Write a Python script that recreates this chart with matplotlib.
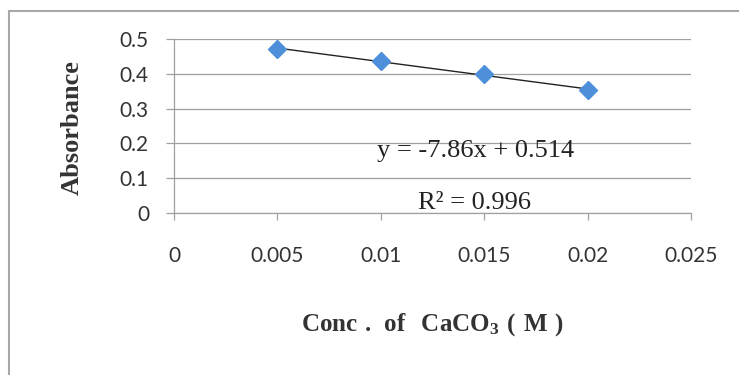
import matplotlib.pyplot as plt
from matplotlib.patches import Rectangle
import numpy as np

plt.rcParams['mathtext.fontset'] = 'custom'
plt.rcParams['mathtext.rm'] = 'Liberation Serif'
plt.rcParams['mathtext.bf'] = 'Liberation Serif:bold'

# data
conc = [0.005, 0.01, 0.015, 0.02]
absorbance = [0.472, 0.437, 0.400, 0.354]
x_ticks = [0, 0.005, 0.01, 0.015, 0.02, 0.025]
x_tick_labels = ['0', '0.005', '0.01', '0.015', '0.02', '0.025']
y_ticks = [0, 0.1, 0.2, 0.3, 0.4, 0.5]
y_tick_labels = ['0', '0.1', '0.2', '0.3', '0.4', '0.5']
slope = -7.86
intercept = 0.514
r2 = 0.996

W, H = 739, 375
fig = plt.figure(figsize=(W / 100, H / 100), dpi=100)

# outer chart border (only top and left show in the crop)
fig.patches.append(Rectangle((9 / W, -0.1), 1.2, 1 - 11 / H + 0.1,
                             transform=fig.transFigure, fill=False,
                             edgecolor='#a8a8a8', linewidth=1.5))

ax = fig.add_axes([174 / W, 1 - 212.7 / H, (691 - 174) / W, (212.7 - 39.3) / H])
ax.set_xlim(0, 0.025)
ax.set_ylim(0, 0.5)

ax.set_yticks(y_ticks)
ax.set_yticklabels(y_tick_labels)
ax.set_xticks(x_ticks)
ax.set_xticklabels(x_tick_labels)

ax.grid(axis='y', color='#a0a0a0', linewidth=0.9)
ax.set_axisbelow(True)
for side in ['top', 'right']:
    ax.spines[side].set_visible(False)
for side in ['left', 'bottom']:
    ax.spines[side].set_color('#a0a0a0')
    ax.spines[side].set_linewidth(0.9)

ax.tick_params(axis='y', length=6, width=0.9, color='#a0a0a0', pad=12,
               labelsize=15, labelcolor='#333333')
ax.tick_params(axis='x', length=5, width=0.9, color='#a0a0a0', pad=19,
               labelsize=15, labelcolor='#333333')
for lbl in ax.get_xticklabels() + ax.get_yticklabels():
    lbl.set_family('Lato')

# trendline over the data range
xs = np.array([conc[0], conc[-1]])
ax.plot(xs, slope * xs + intercept, color='#222222', linewidth=1.0, zorder=3)
ax.plot(conc, absorbance, linestyle='none', marker='D', markersize=9.3,
        color='#4d8fd8', markeredgecolor='#4d8fd8', zorder=4)

fig.text(476 / W, 1 - 151 / H, 'y = -7.86x + 0.514', ha='center', va='center',
         family='Liberation Serif', fontsize=19, color='#222222')
fig.text(475 / W, 1 - 203 / H, 'R² = 0.996', ha='center', va='center',
         family='Liberation Serif', fontsize=19, color='#222222')

fig.text(72 / W, 1 - 128 / H, 'Absorbance', rotation=90, ha='center', va='center',
         family='Liberation Serif', fontweight='bold', fontsize=19, color='#333333')
fig.text(433 / W, 1 - 325 / H, r'$\mathbf{Conc\ .\ of\ \ CaCO_3\ (\ M\ )}$',
         ha='center', va='center', fontsize=18, color='#333333')

fig.savefig('out.png', dpi=100)
